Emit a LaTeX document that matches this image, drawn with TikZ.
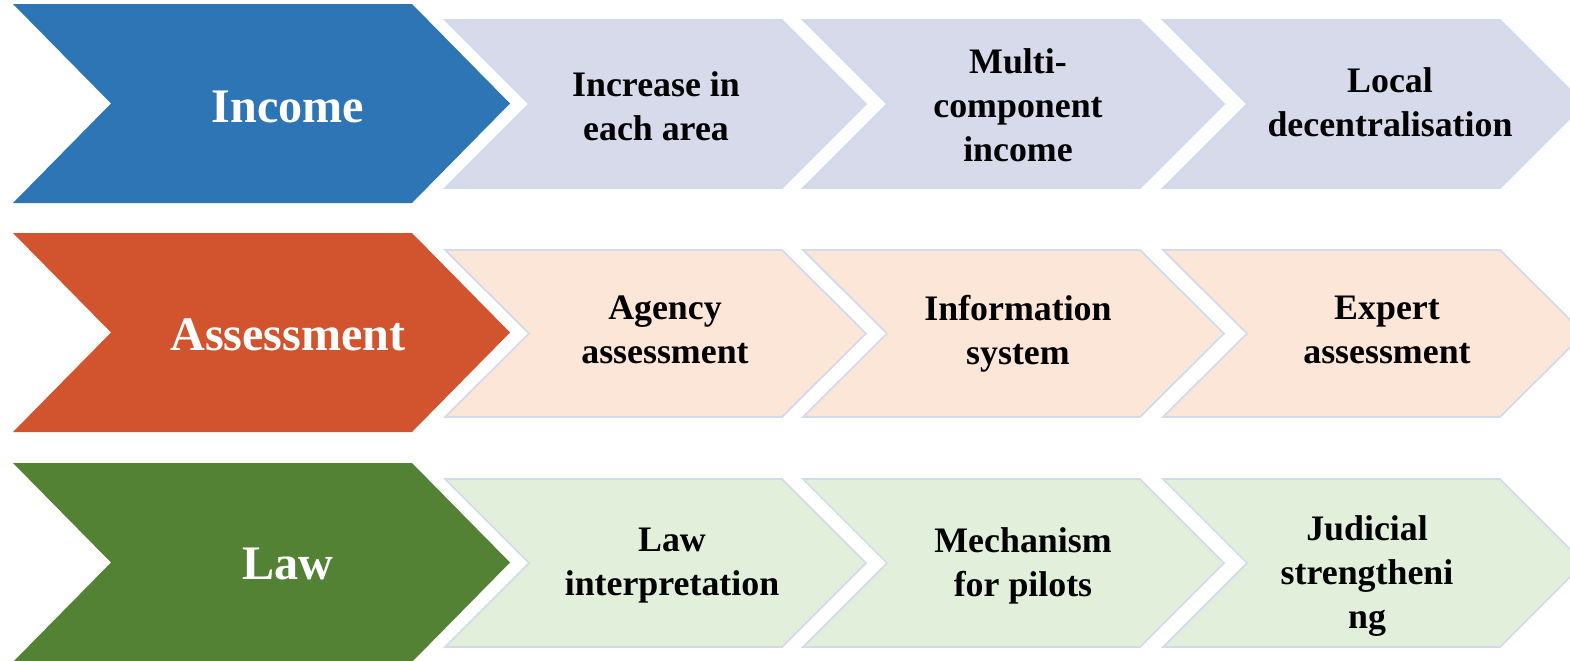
\documentclass[tikz,border=0pt]{standalone}
\usepackage{fontspec}
\setmainfont{Liberation Serif}
\usepackage{tikz}
\usepackage{xcolor}
\usetikzlibrary{calc}

\definecolor{incomeblue}{HTML}{2E75B6}
\definecolor{assessorange}{HTML}{D1542E}
\definecolor{lawgreen}{HTML}{548235}
\definecolor{incomelight}{HTML}{D6DAEB}
\definecolor{assesslight}{HTML}{FBE6D8}
\definecolor{lawlight}{HTML}{E2EFDA}
\definecolor{chevedge}{HTML}{D3DAEC}

\tikzset{
  bigtext/.style={text=white, font=\fontsize{13.7}{16}\selectfont\bfseries, align=center},
  smalltext/.style={text=black, font=\fontsize{10.2}{12.5}\selectfont\bfseries, align=center},
  smallchev/.style={draw=chevedge, line width=0.5pt},
}

\begin{document}
\begin{tikzpicture}
\useasboundingbox (0,0) rectangle (15.7,6.6);
\clip (0,0) rectangle (15.7,6.6);

% row heads
\fill[incomeblue] (0.13,6.56) -- (4.12,6.56) -- (5.10,5.565) -- (4.12,4.57) -- (0.13,4.57) -- (1.11,5.565) -- cycle;
\fill[assessorange] (0.13,4.27) -- (4.12,4.27) -- (5.10,3.275) -- (4.12,2.28) -- (0.13,2.28) -- (1.11,3.275) -- cycle;
\fill[lawgreen] (0.13,1.97) -- (4.12,1.97) -- (5.10,0.975) -- (4.12,-0.02) -- (0.13,-0.02) -- (1.11,0.975) -- cycle;

% steps, income row
\fill[incomelight, smallchev] (4.45,6.40) -- (7.82,6.40) -- (8.66,5.56) -- (7.82,4.72) -- (4.45,4.72) -- (5.29,5.56) -- cycle;
\fill[incomelight, smallchev] (8.03,6.40) -- (11.40,6.40) -- (12.24,5.56) -- (11.40,4.72) -- (8.03,4.72) -- (8.87,5.56) -- cycle;
\fill[incomelight, smallchev] (11.63,6.40) -- (15.00,6.40) -- (15.84,5.56) -- (15.00,4.72) -- (11.63,4.72) -- (12.47,5.56) -- cycle;

% steps, assessment row
\fill[assesslight, smallchev] (4.45,4.10) -- (7.82,4.10) -- (8.66,3.265) -- (7.82,2.43) -- (4.45,2.43) -- (5.29,3.265) -- cycle;
\fill[assesslight, smallchev] (8.03,4.10) -- (11.40,4.10) -- (12.24,3.265) -- (11.40,2.43) -- (8.03,2.43) -- (8.87,3.265) -- cycle;
\fill[assesslight, smallchev] (11.63,4.10) -- (15.00,4.10) -- (15.84,3.265) -- (15.00,2.43) -- (11.63,2.43) -- (12.47,3.265) -- cycle;

% steps, law row
\fill[lawlight, smallchev] (4.45,1.81) -- (7.82,1.81) -- (8.66,0.97) -- (7.82,0.13) -- (4.45,0.13) -- (5.29,0.97) -- cycle;
\fill[lawlight, smallchev] (8.03,1.81) -- (11.40,1.81) -- (12.24,0.97) -- (11.40,0.13) -- (8.03,0.13) -- (8.87,0.97) -- cycle;
\fill[lawlight, smallchev] (11.63,1.81) -- (15.00,1.81) -- (15.84,0.97) -- (15.00,0.13) -- (11.63,0.13) -- (12.47,0.97) -- cycle;

\node[bigtext] (income) at (2.88,5.53) {Income};
\node[bigtext] (assessment) at (2.88,3.25) {Assessment};
\node[bigtext] (law) at (2.88,0.96) {Law};

\node[smalltext] (increase) at (6.56,5.54) {Increase in\\each area};
\node[smalltext] (multi) at (10.18,5.55) {Multi-\\component\\income};
\node[smalltext] (local) at (13.90,5.58) {Local\\decentralisation};

\node[smalltext] (agency) at (6.65,3.30) {Agency\\assessment};
\node[smalltext] (info) at (10.18,3.26) {Information\\system};
\node[smalltext] (expert) at (13.87,3.30) {Expert\\assessment};

\node[smalltext] (interp) at (6.72,0.94) {Law\\interpretation};
\node[smalltext] (pilots) at (10.23,0.94) {Mechanism\\for pilots};
\node[smalltext] (judicial) at (13.67,0.84) {Judicial\\strengtheni\\ng};

\end{tikzpicture}
\end{document}
